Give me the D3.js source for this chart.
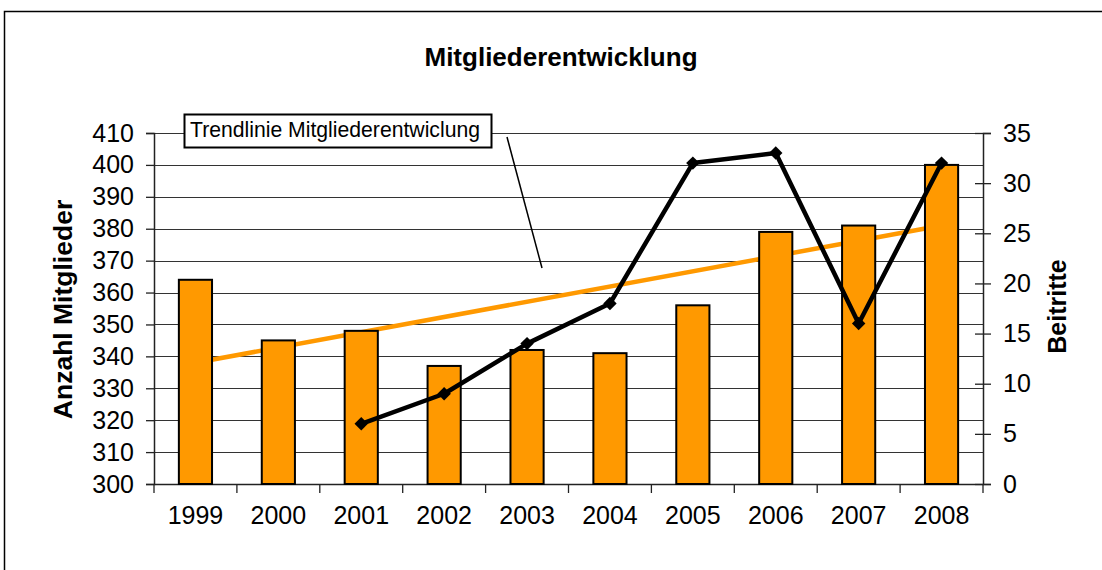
<!DOCTYPE html>
<html>
<head>
<meta charset="utf-8">
<script src="https://cdn.jsdelivr.net/npm/d3@7"></script>
<style>
  html, body { margin: 0; padding: 0; background: #fff; }
  svg { display: block; font-family: "Liberation Sans", Arial, sans-serif; }
</style>
</head>
<body>
<div id="chart"></div>
<script>
// Chart data
const years = ["1999", "2000", "2001", "2002", "2003", "2004", "2005", "2006", "2007", "2008"]
const mitglieder = [364, 345, 348, 337, 342, 341, 356, 379, 381, 400]
const beitritteYears = ["2001", "2002", "2003", "2004", "2005", "2006", "2007", "2008"]
const beitritte = [6, 9, 14, 18, 32, 33, 16, 32]
const trendYears = ["1999", "2008"]
const trendValues = [338, 381]
const leftTicks = [300, 310, 320, 330, 340, 350, 360, 370, 380, 390, 400, 410]
const rightTicks = [0, 5, 10, 15, 20, 25, 30, 35]

const ORANGE = "#ff9900"
const width = 1102
const height = 570
const plot = { left: 154, right: 983, top: 133, bottom: 484 }

const svg = d3.select("#chart").append("svg")
  .attr("width", width)
  .attr("height", height)

svg.append("rect")
  .attr("width", width)
  .attr("height", height)
  .attr("fill", "#fff")

// Outer chart frame
svg.append("rect")
  .attr("x", 4.5)
  .attr("y", 11.5)
  .attr("width", 1200)
  .attr("height", 700)
  .attr("fill", "none")
  .attr("stroke", "#000")
  .attr("stroke-width", 1.5)

// Scales
const x = d3.scaleBand()
  .domain(years)
  .range([plot.left, plot.right])
  .padding(0)

const yLeft = d3.scaleLinear()
  .domain([300, 410])
  .range([plot.bottom, plot.top])

const yRight = d3.scaleLinear()
  .domain([0, 35])
  .range([plot.bottom, plot.top])

const cx = d => x(d) + x.bandwidth() / 2

// Title
svg.append("text")
  .attr("x", 561)
  .attr("y", 66)
  .attr("text-anchor", "middle")
  .attr("font-size", 26)
  .attr("font-weight", "bold")
  .text("Mitgliederentwicklung")

// Gridlines
svg.append("g")
  .selectAll("line")
  .data(leftTicks)
  .enter().append("line")
  .attr("x1", plot.left)
  .attr("x2", plot.right)
  .attr("y1", d => Math.round(yLeft(d)) + 0.5)
  .attr("y2", d => Math.round(yLeft(d)) + 0.5)
  .attr("stroke", "#333")
  .attr("stroke-width", 1.2)

// Left axis
const leftAxis = svg.append("g")
  .attr("transform", `translate(${plot.left},0)`)
  .call(d3.axisLeft(yLeft).tickValues(leftTicks).tickSize(8).tickPadding(12))
leftAxis.select(".domain").attr("stroke", "#222").attr("stroke-width", 1.5)
leftAxis.selectAll(".tick line").attr("stroke", "#222").attr("stroke-width", 1.3)
leftAxis.selectAll(".tick text")
  .attr("font-size", 25)
  .attr("font-family", "Liberation Sans, Arial, sans-serif")
  .attr("fill", "#000")

// Right axis, ticks crossing the line
const rightAxis = svg.append("g")
  .attr("transform", `translate(${plot.right},0)`)
  .call(d3.axisRight(yRight).tickValues(rightTicks).tickSize(8).tickPadding(12))
rightAxis.select(".domain").attr("stroke", "#222").attr("stroke-width", 1.5)
rightAxis.selectAll(".tick line")
  .attr("x1", -8)
  .attr("stroke", "#222")
  .attr("stroke-width", 1.3)
rightAxis.selectAll(".tick text")
  .attr("font-size", 25)
  .attr("font-family", "Liberation Sans, Arial, sans-serif")
  .attr("fill", "#000")

// Bottom axis: line plus tick marks between categories
const bottomAxis = svg.append("g")
  .attr("transform", `translate(0,${plot.bottom})`)
  .call(d3.axisBottom(x).tickSize(0).tickPadding(22))
bottomAxis.select(".domain").attr("stroke", "#222").attr("stroke-width", 1.5)
bottomAxis.selectAll(".tick text")
  .attr("font-size", 25)
  .attr("font-family", "Liberation Sans, Arial, sans-serif")
  .attr("fill", "#000")

bottomAxis.selectAll(".sep")
  .data(years.concat(["end"]))
  .enter().append("line")
  .attr("class", "sep")
  .attr("x1", (d, i) => plot.left + i * x.step())
  .attr("x2", (d, i) => plot.left + i * x.step())
  .attr("y1", 0)
  .attr("y2", 9)
  .attr("stroke", "#222")
  .attr("stroke-width", 1.3)

// Axis titles
svg.append("text")
  .attr("transform", `translate(72,${(plot.top + plot.bottom) / 2 + 1}) rotate(-90)`)
  .attr("text-anchor", "middle")
  .attr("font-size", 26.5)
  .attr("font-weight", "bold")
  .text("Anzahl Mitglieder")

svg.append("text")
  .attr("transform", `translate(1066,${(plot.top + plot.bottom) / 2 - 2}) rotate(-90)`)
  .attr("text-anchor", "middle")
  .attr("font-size", 25)
  .attr("font-weight", "bold")
  .text("Beitritte")

// Trend line (behind the bars)
svg.append("line")
  .attr("x1", cx(trendYears[0]))
  .attr("y1", yLeft(trendValues[0]))
  .attr("x2", cx(trendYears[1]))
  .attr("y2", yLeft(trendValues[1]))
  .attr("stroke", ORANGE)
  .attr("stroke-width", 4.5)

// Bars
const barW = x.bandwidth() * 0.4
svg.append("g")
  .selectAll("rect")
  .data(years)
  .enter().append("rect")
  .attr("x", d => cx(d) - barW / 2)
  .attr("y", (d, i) => yLeft(mitglieder[i]))
  .attr("width", barW)
  .attr("height", (d, i) => plot.bottom - yLeft(mitglieder[i]))
  .attr("fill", ORANGE)
  .attr("stroke", "#000")
  .attr("stroke-width", 2)

// Beitritte line with diamond markers
const line = d3.line()
  .x(d => cx(d[0]))
  .y(d => yRight(d[1]))
const pts = beitritteYears.map((yr, i) => [yr, beitritte[i]])

svg.append("path")
  .datum(pts)
  .attr("d", line)
  .attr("fill", "none")
  .attr("stroke", "#000")
  .attr("stroke-width", 4.5)
  .attr("stroke-linejoin", "round")

svg.append("g")
  .selectAll("path")
  .data(pts)
  .enter().append("path")
  .attr("d", d3.symbol(d3.symbolSquare, 90))
  .attr("transform", d => `translate(${cx(d[0])},${yRight(d[1])}) rotate(45)`)
  .attr("fill", "#000")

// Trend label with leader line
svg.append("line")
  .attr("x1", 507)
  .attr("y1", 137)
  .attr("x2", 542)
  .attr("y2", 268)
  .attr("stroke", "#000")
  .attr("stroke-width", 1.5)

svg.append("rect")
  .attr("x", 184.5)
  .attr("y", 114.5)
  .attr("width", 307)
  .attr("height", 33)
  .attr("fill", "#fff")
  .attr("stroke", "#000")
  .attr("stroke-width", 2)

svg.append("text")
  .attr("x", 190)
  .attr("y", 137)
  .attr("font-size", 21.5)
  .attr("textLength", 290)
  .attr("lengthAdjust", "spacingAndGlyphs")
  .text("Trendlinie Mitgliederentwiclung")
</script>
</body>
</html>
